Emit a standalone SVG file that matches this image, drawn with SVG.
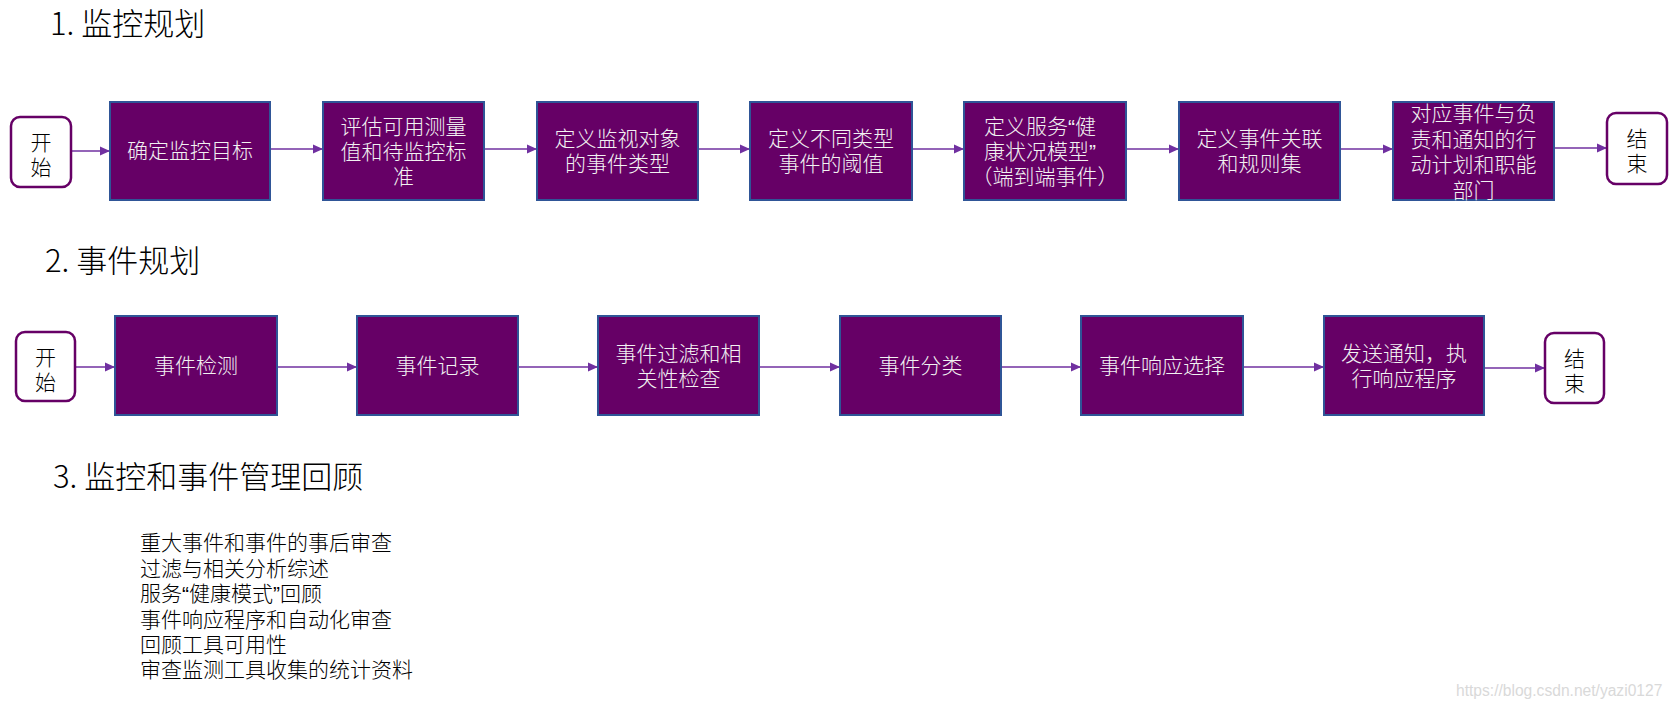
<svg xmlns="http://www.w3.org/2000/svg" width="1674" height="708" viewBox="0 0 1674 708">
<defs>
<marker id="arr" markerWidth="10" markerHeight="10" refX="10" refY="5" orient="auto" markerUnits="userSpaceOnUse">
<path d="M0,0.5 L10,5 L0,9.5 Z" fill="#7030A0"/>
</marker>
</defs>
<style>
.title{font-family:"Noto Sans CJK SC","Noto Sans",sans-serif;font-size:31px;font-weight:300;fill:#000}
.box{fill:#660066;stroke:#2F5597;stroke-width:2}
.term{fill:#fff;stroke:#660066;stroke-width:2.5}
.bt{font-family:"Noto Sans CJK SC","Noto Sans",sans-serif;font-size:21px;font-weight:300;fill:#F2F2F2;text-anchor:middle}
.tt{font-family:"Noto Sans CJK SC","Noto Sans",sans-serif;font-size:21px;font-weight:300;fill:#000;text-anchor:middle}
.list{font-family:"Noto Sans CJK SC","Noto Sans",sans-serif;font-size:21px;font-weight:300;fill:#000}
.q{font-family:"Liberation Sans",Arial,sans-serif}
.con{stroke:#7030A0;stroke-width:1.5;fill:none;marker-end:url(#arr)}
.wm{font-family:"Liberation Sans",Arial,sans-serif;font-size:15.6px;fill:#D9D9D9}
</style>
<rect width="1674" height="708" fill="#fff"/>

<text class="title" x="50" y="35">1. 监控规划</text>
<text class="title" x="45" y="272">2. 事件规划</text>
<text class="title" x="53" y="488">3. 监控和事件管理回顾</text>

<g id="connectors">
<line class="con" x1="71" y1="151" x2="110" y2="151"/>
<line class="con" x1="271" y1="149" x2="323" y2="149"/>
<line class="con" x1="485" y1="149" x2="537" y2="149"/>
<line class="con" x1="698" y1="149" x2="750" y2="149"/>
<line class="con" x1="912" y1="149" x2="964" y2="149"/>
<line class="con" x1="1126" y1="149" x2="1179" y2="149"/>
<line class="con" x1="1340" y1="149" x2="1393" y2="149"/>
<line class="con" x1="1554" y1="148" x2="1607" y2="148"/>

<line class="con" x1="75" y1="367" x2="115" y2="367"/>
<line class="con" x1="277" y1="367" x2="357" y2="367"/>
<line class="con" x1="518" y1="367" x2="598" y2="367"/>
<line class="con" x1="759" y1="367" x2="840" y2="367"/>
<line class="con" x1="1001" y1="367" x2="1081" y2="367"/>
<line class="con" x1="1243" y1="367" x2="1324" y2="367"/>
<line class="con" x1="1484" y1="368" x2="1545" y2="368"/>
</g>

<g id="s1-start">
<rect class="term" x="11" y="117" width="60" height="70" rx="9"/>
<text class="tt"><tspan x="41" y="150">开</tspan><tspan x="41" y="175">始</tspan></text>
</g>
<g id="s1-n1">
<rect class="box" x="110" y="102" width="160" height="98"/>
<text class="bt" x="190" y="158">确定监控目标</text>
</g>
<g id="s1-n2">
<rect class="box" x="323" y="102" width="161" height="98"/>
<text class="bt"><tspan x="403.5" y="134">评估可用测量</tspan><tspan x="403.5" y="159">值和待监控标</tspan><tspan x="403.5" y="184">准</tspan></text>
</g>
<g id="s1-n3">
<rect class="box" x="537" y="102" width="161" height="98"/>
<text class="bt"><tspan x="617.5" y="146">定义监视对象</tspan><tspan x="617.5" y="171">的事件类型</tspan></text>
</g>
<g id="s1-n4">
<rect class="box" x="750" y="102" width="162" height="98"/>
<text class="bt"><tspan x="831" y="146">定义不同类型</tspan><tspan x="831" y="171">事件的阈值</tspan></text>
</g>
<g id="s1-n5">
<rect class="box" x="964" y="102" width="162" height="98"/>
<text class="bt"><tspan x="1040" y="134">定义服务<tspan class="q">“</tspan>健</tspan><tspan x="1040" y="159">康状况模型<tspan class="q">”</tspan></tspan><tspan x="1045" y="184">（端到端事件）</tspan></text>
</g>
<g id="s1-n6">
<rect class="box" x="1179" y="102" width="161" height="98"/>
<text class="bt"><tspan x="1259.5" y="146">定义事件关联</tspan><tspan x="1259.5" y="171">和规则集</tspan></text>
</g>
<g id="s1-n7">
<rect class="box" x="1393" y="102" width="161" height="98"/>
<text class="bt"><tspan x="1473.5" y="121">对应事件与负</tspan><tspan x="1473.5" y="147">责和通知的行</tspan><tspan x="1473.5" y="172">动计划和职能</tspan><tspan x="1473.5" y="198">部门</tspan></text>
</g>
<g id="s1-end">
<rect class="term" x="1607" y="113" width="60" height="71" rx="9"/>
<text class="tt"><tspan x="1637" y="146">结</tspan><tspan x="1637" y="171">束</tspan></text>
</g>

<g id="s2-start">
<rect class="term" x="16" y="332" width="59" height="69" rx="9"/>
<text class="tt"><tspan x="45.5" y="365">开</tspan><tspan x="45.5" y="390">始</tspan></text>
</g>
<g id="s2-n1">
<rect class="box" x="115" y="316" width="162" height="99"/>
<text class="bt" x="196" y="373">事件检测</text>
</g>
<g id="s2-n2">
<rect class="box" x="357" y="316" width="161" height="99"/>
<text class="bt" x="437.5" y="373">事件记录</text>
</g>
<g id="s2-n3">
<rect class="box" x="598" y="316" width="161" height="99"/>
<text class="bt"><tspan x="678.5" y="361">事件过滤和相</tspan><tspan x="678.5" y="386">关性检查</tspan></text>
</g>
<g id="s2-n4">
<rect class="box" x="840" y="316" width="161" height="99"/>
<text class="bt" x="920.5" y="373">事件分类</text>
</g>
<g id="s2-n5">
<rect class="box" x="1081" y="316" width="162" height="99"/>
<text class="bt" x="1162" y="373">事件响应选择</text>
</g>
<g id="s2-n6">
<rect class="box" x="1324" y="316" width="160" height="99"/>
<text class="bt"><tspan x="1404" y="361">发送通知，执</tspan><tspan x="1404" y="386">行响应程序</tspan></text>
</g>
<g id="s2-end">
<rect class="term" x="1545" y="333" width="59" height="70" rx="9"/>
<text class="tt"><tspan x="1574.5" y="366">结</tspan><tspan x="1574.5" y="391">束</tspan></text>
</g>

<g id="review-list">
<text class="list"><tspan x="140" y="550">重大事件和事件的事后审查</tspan><tspan x="140" y="575.5">过滤与相关分析综述</tspan><tspan x="140" y="601">服务<tspan class="q">“</tspan>健康模式<tspan class="q">”</tspan>回顾</tspan><tspan x="140" y="626.5">事件响应程序和自动化审查</tspan><tspan x="140" y="652">回顾工具可用性</tspan><tspan x="140" y="677">审查监测工具收集的统计资料</tspan></text>
</g>

<text class="wm" x="1456" y="696">https://blog.csdn.net/yazi0127</text>
</svg>
